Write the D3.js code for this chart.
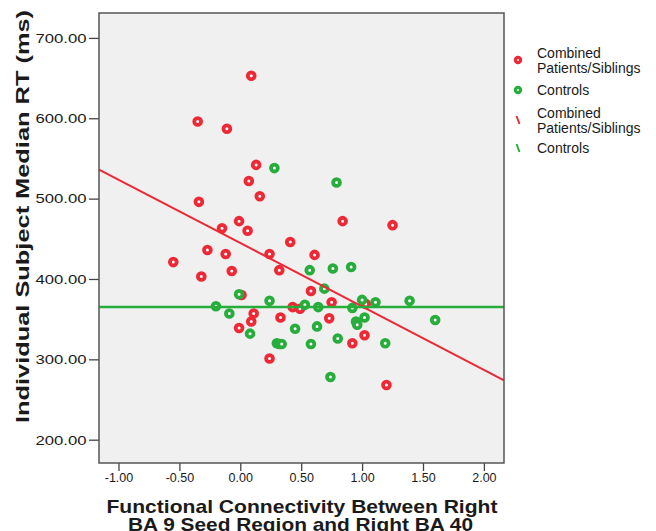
<!DOCTYPE html>
<html>
<head>
  <meta charset="utf-8" />
  <script src="https://d3js.org/d3.v7.min.js"></script>
  <style>
    body { margin: 0; background: #fff; }
    text { font-family: "Liberation Sans", Arial, sans-serif; fill: #1a1a1a; }
  </style>
</head>
<body>
  <div id="chart"></div>
  <script>
    // values
    const patientPoints = [
      [0.09, 653], [-0.35, 596], [-0.11, 587], [0.13, 542], [0.07, 522], [0.16, 503],
      [-0.34, 496], [-0.01, 472], [-0.15, 463], [0.06, 460], [0.84, 472], [1.25, 467],
      [0.41, 446], [-0.27, 436], [-0.12, 431], [0.24, 431], [0.61, 430], [-0.55, 421],
      [-0.07, 410], [-0.32, 403], [0.32, 411], [0.58, 385], [0.01, 380], [0.75, 371],
      [0.43, 365], [0.49, 363], [1.03, 369], [0.11, 357], [0.33, 352], [0.09, 347],
      [0.73, 351], [-0.01, 339], [1.02, 330], [0.92, 320], [0.24, 301], [1.20, 268]
    ];
    const controlPoints = [
      [0.28, 538], [0.79, 520], [0.57, 411], [0.76, 413], [0.91, 415], [0.69, 388],
      [-0.01, 381], [0.24, 373], [-0.20, 366], [-0.09, 357], [0.53, 368], [0.64, 365],
      [0.92, 364], [1.00, 374], [1.11, 371], [1.39, 373], [1.02, 352], [0.95, 347],
      [0.96, 343], [1.60, 349], [0.45, 338], [0.63, 341], [0.08, 332], [0.80, 326],
      [0.30, 320], [0.32, 319], [0.34, 319], [0.58, 319], [1.19, 320], [0.74, 278]
    ];
    // fit lines: [intercept, slope]
    const patientFit = [444.7, -78.9];
    const controlFit = [365, 0];
    const xTicks = [-1, -0.5, 0, 0.5, 1, 1.5, 2];
    const yTicks = [200, 300, 400, 500, 600, 700];
    const legendLabels = [["Combined", "Patients/Siblings"], ["Controls"], ["Combined", "Patients/Siblings"], ["Controls"]];

    const red = "#ee2834";
    const green = "#27ad3b";
    const width = 656, height = 531;
    const plotL = 99, plotT = 13, plotR = 504, plotB = 463;

    const svg = d3.select("#chart").append("svg")
      .attr("width", width)
      .attr("height", height);

    const x = d3.scaleLinear().domain([-1.16, 2.165]).range([plotL, plotR]);
    const y = d3.scaleLinear().domain([171, 731]).range([plotB, plotT]);
    const fmt = v => v.toFixed(2);

    svg.append("rect")
      .attr("x", plotL).attr("y", plotT)
      .attr("width", plotR - plotL).attr("height", plotB - plotT)
      .attr("fill", "#f0f0f0");

    // axes
    const yAxis = svg.append("g")
      .attr("transform", `translate(${plotL},0)`)
      .call(d3.axisLeft(y).tickValues(yTicks).tickFormat(fmt).tickSize(10).tickPadding(2.5));
    yAxis.select(".domain").remove();
    yAxis.selectAll("line").attr("stroke", "#444").attr("stroke-width", 1.3);
    yAxis.selectAll("text")
      .attr("font-size", 13.5)
      .attr("fill", "#1a1a1a")
      .attr("textLength", 51)
      .attr("lengthAdjust", "spacingAndGlyphs");

    const xAxis = svg.append("g")
      .attr("transform", `translate(0,${plotB})`)
      .call(d3.axisBottom(x).tickValues(xTicks).tickFormat(fmt).tickSize(8).tickPadding(2));
    xAxis.select(".domain").remove();
    xAxis.selectAll("line").attr("stroke", "#444").attr("stroke-width", 1.3);
    xAxis.selectAll("text").attr("font-size", 12.5).attr("fill", "#1a1a1a");

    // points
    function drawPoints(data, color) {
      svg.append("g").selectAll("circle")
        .data(data)
        .join("circle")
        .attr("cx", d => x(d[0]))
        .attr("cy", d => y(d[1]))
        .attr("r", 3.4)
        .attr("fill", "#fff")
        .attr("stroke", color)
        .attr("stroke-width", 3.8);
    }
    drawPoints(patientPoints, red);
    drawPoints(controlPoints, green);

    // fit lines
    function drawFit(fit, color, w) {
      const xs = x.domain();
      svg.append("line")
        .attr("x1", x(xs[0])).attr("y1", y(fit[0] + fit[1] * xs[0]))
        .attr("x2", x(xs[1])).attr("y2", y(fit[0] + fit[1] * xs[1]))
        .attr("stroke", color)
        .attr("stroke-width", w);
    }
    drawFit(patientFit, red, 2);
    drawFit(controlFit, green, 2.5);

    svg.append("rect")
      .attr("x", plotL).attr("y", plotT)
      .attr("width", plotR - plotL).attr("height", plotB - plotT)
      .attr("fill", "none")
      .attr("stroke", "#555")
      .attr("stroke-width", 1.5);

    // legend
    const legendY = [60, 90, 120, 148];
    const legendColors = [red, green, red, green];
    legendLabels.forEach((lines, i) => {
      const cy = legendY[i];
      if (i < 2) {
        svg.append("circle")
          .attr("cx", 518).attr("cy", cy).attr("r", 2.6)
          .attr("fill", "#fff")
          .attr("stroke", legendColors[i])
          .attr("stroke-width", 3.2);
      } else {
        svg.append("line")
          .attr("x1", 516.5).attr("y1", cy - 4)
          .attr("x2", 519.5).attr("y2", cy + 4)
          .attr("stroke", legendColors[i])
          .attr("stroke-width", 2);
      }
      const t = svg.append("text")
        .attr("x", 537)
        .attr("font-size", 14);
      const y0 = cy - (lines.length - 1) * 7.5 + 5;
      lines.forEach((s, j) => {
        t.append("tspan").attr("x", 537).attr("y", y0 + j * 15).text(s);
      });
    });

    // axis titles
    svg.append("text")
      .attr("transform", "translate(29,216.5) rotate(-90)")
      .attr("text-anchor", "middle")
      .attr("font-size", 19)
      .attr("font-weight", "bold")
      .attr("textLength", 413)
      .attr("lengthAdjust", "spacingAndGlyphs")
      .text("Individual Subject Median RT (ms)");

    svg.append("text")
      .attr("x", 302).attr("y", 513)
      .attr("text-anchor", "middle")
      .attr("font-size", 18.5)
      .attr("font-weight", "bold")
      .attr("textLength", 391)
      .attr("lengthAdjust", "spacingAndGlyphs")
      .text("Functional Connectivity Between Right");
    svg.append("text")
      .attr("x", 300.5).attr("y", 531)
      .attr("text-anchor", "middle")
      .attr("font-size", 18.5)
      .attr("font-weight", "bold")
      .attr("textLength", 345)
      .attr("lengthAdjust", "spacingAndGlyphs")
      .text("BA 9 Seed Region and Right BA 40");
  </script>
</body>
</html>
